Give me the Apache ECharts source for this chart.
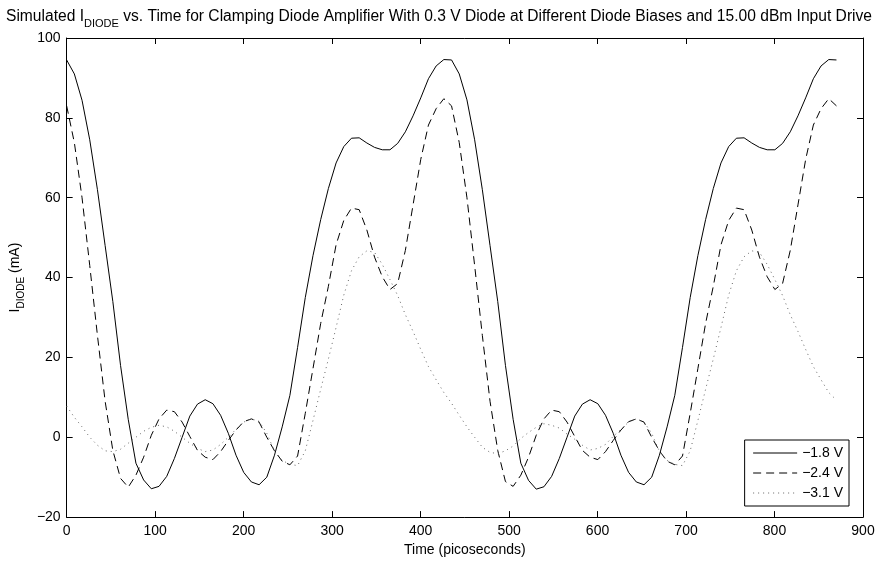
<!DOCTYPE html>
<html>
<head>
<meta charset="utf-8">
<script src="https://cdn.jsdelivr.net/npm/echarts@6/dist/echarts.min.js"></script>
<style>
  html, body { margin: 0; padding: 0; background: #fff; }
  #chart { width: 878px; height: 562px; }
</style>
</head>
<body>
<div id="chart"></div>
<script>
// Sample times (ps)
const timePs = [
  0, 8.7, 17.4, 26.1, 34.8, 43.5, 52.2, 60.9, 69.6, 78.3,
  87, 95.7, 104.4, 113.1, 121.8, 130.5, 139.2, 147.9, 156.6, 165.3,
  174, 182.7, 191.4, 200.1, 208.8, 217.5, 226.2, 234.9, 243.6, 252.3,
  261, 269.7, 278.4, 287.1, 295.8, 304.5, 313.2, 321.9, 330.6, 339.3,
  348, 356.7, 365.4, 374.1, 382.8, 391.5, 400.2, 408.9, 417.6, 426.3,
  435, 443.7, 452.4, 461.1, 469.8, 478.5, 487.2, 495.9, 504.6, 513.3,
  522, 530.7, 539.4, 548.1, 556.8, 565.5, 574.2, 582.9, 591.6, 600.3,
  609, 617.7, 626.4, 635.1, 643.8, 652.5, 661.2, 669.9, 678.6, 687.3,
  696, 704.7, 713.4, 722.1, 730.8, 739.5, 748.2, 756.9, 765.6, 774.3,
  783, 791.7, 800.4, 809.1, 817.8, 826.5, 835.2, 843.9, 852.6, 861.3,
  870
];

// Diode current (mA), bias -1.8 V
const idiodeBias18 = [
  94.5, 91.0, 84.4, 74.5, 62.0, 48.0, 34.0, 18.0, 4.5, -6.5,
  -10.7, -12.9, -12.3, -9.8, -5.3, 0.0, 5.3, 8.3, 9.4, 8.4,
  5.5, 1.0, -4.5, -8.8, -11.2, -11.9, -10.0, -4.5, 2.6, 10.5,
  22.5, 35.0, 45.5, 54.5, 62.3, 68.7, 72.8, 74.9, 75.0, 73.7,
  72.6, 72.0, 72.0, 73.6, 76.5, 80.5, 85.0, 89.8, 93.0, 94.6,
  94.5, 91.0, 84.5, 74.5, 62.0, 48.0, 34.0, 18.0, 4.5, -6.5,
  -10.8, -13.0, -12.4, -9.8, -5.3, 0.0, 5.3, 8.3, 9.4, 8.4,
  5.5, 1.0, -4.5, -8.8, -11.2, -11.9, -10.0, -4.5, 2.6, 10.5,
  22.5, 35.0, 45.5, 54.5, 62.3, 68.7, 72.8, 74.9, 75.0, 73.7,
  72.6, 72.0, 72.0, 73.6, 76.5, 80.5, 85.0, 89.8, 93.0, 94.6,
  94.5
];

// Diode current (mA), bias -2.4 V
const idiodeBias24 = [
  83.0, 73.8, 60.0, 43.0, 25.5, 9.0, -3.3, -10.3, -12.5, -9.5,
  -5.0, 0.5, 4.6, 6.8, 6.4, 3.8, 0.2, -3.3, -5.0, -5.6,
  -3.6, -0.8, 1.8, 3.9, 4.6, 3.8, 0.0, -3.4, -6.0, -6.9,
  -4.7, 6.0, 17.2, 28.5, 37.8, 48.2, 54.3, 57.4, 57.0, 51.9,
  45.1, 40.2, 37.0, 38.5, 46.8, 58.2, 69.6, 78.2, 82.3, 84.8,
  83.0, 73.8, 60.0, 43.0, 25.5, 9.0, -3.3, -11.1, -12.3, -9.5,
  -5.0, 0.5, 4.6, 6.8, 6.4, 3.8, 0.2, -3.3, -5.0, -5.6,
  -3.6, -0.8, 1.8, 3.9, 4.6, 3.8, 0.0, -3.4, -6.0, -6.9,
  -4.7, 6.0, 17.2, 28.5, 37.8, 48.2, 54.3, 57.4, 57.0, 51.9,
  45.1, 40.2, 37.0, 38.5, 46.8, 58.2, 69.6, 78.2, 82.3, 84.8,
  83.0
];

// Diode current (mA), bias -3.1 V
const idiodeBias31 = [
  7.8, 5.0, 2.6, 0.0, -2.0, -3.4, -3.6, -3.0, -1.5, 0.0,
  1.5, 2.5, 3.0, 2.6, 1.5, 0.0, -1.5, -2.8, -3.6, -3.2,
  -1.8, 0.0, 2.0, 3.8, 4.6, 4.0, 1.0, -3.5, -5.8, -6.8,
  -7.1, -3.4, 4.2, 12.0, 19.6, 27.5, 35.6, 41.7, 45.2, 46.7,
  46.3, 43.3, 39.5, 35.5, 30.7, 26.5, 22.0, 17.7, 14.4, 11.2,
  8.5, 5.5, 2.6, 0.0, -2.5, -3.8, -4.1, -3.4, -2.2, -0.3,
  1.2, 2.5, 3.4, 3.0, 2.3, 0.8, -0.5, -2.0, -3.2, -2.8,
  -1.8, 0.2, 2.0, 3.8, 4.6, 3.8, 1.0, -3.5, -5.8, -6.8,
  -7.1, -3.4, 4.2, 12.0, 19.6, 27.5, 35.6, 41.7, 45.2, 46.7,
  46.3, 43.3, 39.5, 35.5, 30.7, 26.5, 22.0, 17.7, 14.4, 11.2,
  9.3
];

const seriesNames = ['\u22121.8 V', '\u22122.4 V', '\u22123.1 V'];
const xTicks = [0, 100, 200, 300, 400, 500, 600, 700, 800, 900];
const yTicks = [-20, 0, 20, 40, 60, 80, 100];

const FONT = "'Liberation Sans', Arial, Helvetica, sans-serif";

const pairs = vals => timePs.map((t, k) => [t, vals[k]]);
const minusSign = v => String(v).replace('-', '\u2212');

const frameAxis = {
  axisLine: { show: true, onZero: false, lineStyle: { color: '#000', width: 1 } },
  axisTick: { show: true, inside: true, length: 6, lineStyle: { color: '#000', width: 1 } },
  splitLine: { show: false }
};

const xBase = { type: 'value', min: xTicks[0], max: xTicks[xTicks.length - 1], interval: xTicks[1] - xTicks[0] };
const yBase = { type: 'value', min: yTicks[0], max: yTicks[yTicks.length - 1], interval: yTicks[1] - yTicks[0] };

const chart = echarts.init(document.getElementById('chart'), null, { renderer: 'canvas' });

chart.setOption({
  animation: false,
  backgroundColor: '#fff',
  textStyle: { fontFamily: FONT },
  title: {
    text: '{n|Simulated I}{s|DIODE}{n| vs. Time for Clamping Diode Amplifier With 0.3 V Diode at Different Diode Biases and 15.00 dBm Input Drive}',
    left: 'center',
    top: 4,
    textStyle: {
      fontWeight: 'normal',
      rich: {
        n: { fontFamily: FONT, fontSize: 15.6, fontWeight: 'normal', color: '#000', lineHeight: 16, verticalAlign: 'top' },
        s: { fontFamily: FONT, fontSize: 11, fontWeight: 'normal', color: '#000', lineHeight: 12, verticalAlign: 'top', padding: [9, 0, 0, 0] }
      }
    }
  },
  grid: { left: 66, right: 15, top: 38, bottom: 41, containLabel: false },
  legend: {
    data: seriesNames,
    orient: 'vertical',
    right: 29,
    top: 440,
    backgroundColor: '#fff',
    borderColor: '#000',
    borderWidth: 1,
    borderRadius: 0,
    padding: [6, 6, 6, 8],
    itemWidth: 44,
    itemHeight: 14,
    itemGap: 6,
    itemStyle: { opacity: 0 },
    lineStyle: { width: 1 },
    textStyle: { fontFamily: FONT, fontSize: 14, color: '#000' }
  },
  xAxis: [
    Object.assign({}, xBase, frameAxis, {
      position: 'bottom',
      axisLabel: { show: true, fontFamily: FONT, fontSize: 14, color: '#000', margin: 7 },
      name: 'Time (picoseconds)',
      nameLocation: 'middle',
      nameGap: 22,
      nameTextStyle: { fontFamily: FONT, fontSize: 14, color: '#000' }
    }),
    Object.assign({}, xBase, frameAxis, {
      position: 'top',
      axisLabel: { show: false }
    })
  ],
  yAxis: [
    Object.assign({}, yBase, frameAxis, {
      position: 'left',
      axisLabel: { show: true, fontFamily: FONT, fontSize: 14, color: '#000', margin: 6, formatter: minusSign },
      name: '{n|I}{s|DIODE}{n| (mA)}',
      nameLocation: 'middle',
      nameGap: 34,
      nameRotate: 90,
      nameTextStyle: {
        rich: {
          n: { fontFamily: FONT, fontSize: 14, color: '#000', lineHeight: 15, verticalAlign: 'top' },
          s: { fontFamily: FONT, fontSize: 10, color: '#000', lineHeight: 11, verticalAlign: 'top', padding: [8, 0, 0, 0] }
        }
      }
    }),
    Object.assign({}, yBase, frameAxis, {
      position: 'right',
      axisLabel: { show: false }
    })
  ],
  series: [
    {
      name: seriesNames[0], type: 'line', xAxisIndex: 0, yAxisIndex: 0,
      data: pairs(idiodeBias18), symbol: 'none', showSymbol: false, smooth: false,
      color: '#000', lineStyle: { color: '#000', width: 1, type: 'solid' }
    },
    {
      name: seriesNames[1], type: 'line', xAxisIndex: 0, yAxisIndex: 0,
      data: pairs(idiodeBias24), symbol: 'none', showSymbol: false, smooth: false,
      color: '#000', lineStyle: { color: '#000', width: 1, type: [8, 5] }
    },
    {
      name: seriesNames[2], type: 'line', xAxisIndex: 0, yAxisIndex: 0,
      data: pairs(idiodeBias31), symbol: 'none', showSymbol: false, smooth: false,
      color: '#666', lineStyle: { color: '#666', width: 1, type: [1, 4] }
    }
  ]
});
</script>
</body>
</html>
